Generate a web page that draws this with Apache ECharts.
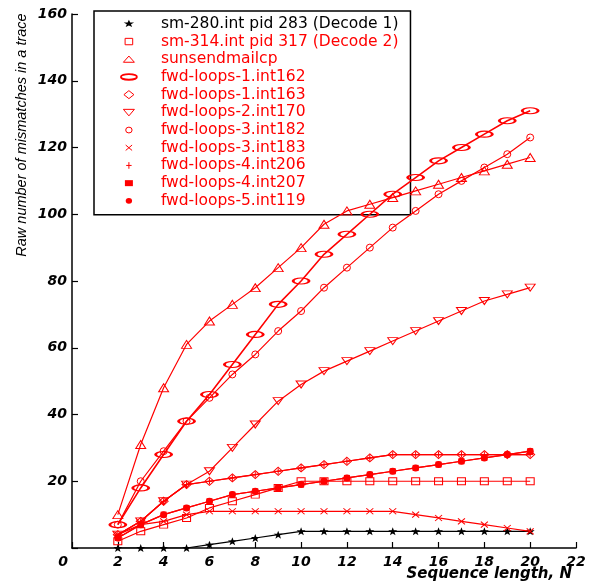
<!DOCTYPE html>
<html>
<head>
<meta charset="utf-8">
<script src="https://cdn.jsdelivr.net/npm/echarts@6/dist/echarts.min.js"></script>
<style>html,body{margin:0;padding:0;background:#fff}#c{width:592px;height:584px}</style>
</head>
<body>
<div id="c"></div>
<script>
// ---- data ----
const seqLen = [2,3,4,5,6,7,8,9,10,11,12,13,14,15,16,17,18,19,20];
const xTicks = [0,2,4,6,8,10,12,14,16,18,20,22];
const yTicks = [0,20,40,60,80,100,120,140,160];
const names = ['sm-280.int pid 283 (Decode 1)','sm-314.int pid 317 (Decode 2)','sunsendmailcp',
  'fwd-loops-1.int162','fwd-loops-1.int163','fwd-loops-2.int170','fwd-loops-3.int182',
  'fwd-loops-3.int183','fwd-loops-4.int206','fwd-loops-4.int207','fwd-loops-5.int119'];
const sm280   = [0,0,0,0,1,2,3,4,5,5,5,5,5,5,5,5,5,5,5];
const sm314   = [2,5,7,9,12,14,16,18,20,20,20,20,20,20,20,20,20,20,20];
const sunsend = [10,31,48,61,68,73,78,84,90,97,101,103,105,107,109,111,113,115,117];
const fl1_162 = [7,18,28,38,46,55,64,73,80,88,94,100,106,111,116,120,124,128,131];
const fl1_163 = [4,8,14,19,20,21,22,23,24,25,26,27,28,28,28,28,28,28,28];
const fl2_170 = [4,8,14,19,23,30,37,44,49,53,56,59,62,65,68,71,74,76,78];
const fl3_182 = [7,20,29,38,45,52,58,65,71,78,84,90,96,101,106,110,114,118,123];
const fl3_183 = [4,7,8,10,11,11,11,11,11,11,11,11,11,10,9,8,7,6,5];
const fl4_206 = [4,8,14,19,20,21,22,23,24,25,26,27,28,28,28,28,28,28,28];
const fl4_207 = [3,7,10,12,14,16,17,18,19,20,21,22,23,24,25,26,27,28,29];
const fl5_119 = [3,7,10,12,14,16,17,18,19,20,21,22,23,24,25,26,27,28,29];
const allData = [sm280,sm314,sunsend,fl1_162,fl1_163,fl2_170,fl3_182,fl3_183,fl4_206,fl4_207,fl5_119];

// ---- styles ----
const RED = '#ff0000', BLK = '#000000', NONE = 'rgba(0,0,0,0)';
const STAR = 'path://M0,-5L1.176,-1.618L4.755,-1.545L1.902,0.618L2.939,4.045L0,2L-2.939,4.045L-1.902,0.618L-4.755,-1.545L-1.176,-1.618Z';
const ELL = 'path://M0,3A7,3,0,1,1,14,3A7,3,0,1,1,0,3Z';
const TRID = 'path://M0,0L10,0L5,8.66Z';
const XM = 'path://M0,0L10,10M10,0L0,10';
const PL = 'path://M5,0L5,10M0,5L10,5';
const PAD = 'path://M-9,-5M9,5';
const styles = [
  {sym: STAR, size:[9,8], fill: BLK, stroke: BLK, bw:0, lw:1.2, color: BLK,
   icon: PAD+'M0,-4L1.3,-1.3L5.2,-1.24L2.1,0.5L3.2,3.24L0,1.6L-3.2,3.24L-2.1,0.5L-5.2,-1.24L-1.3,-1.3Z'},
  {sym:'rect', size:[8,7], fill: NONE, stroke: RED, bw:1, lw:1.2, color: RED,
   icon: PAD+'M-3.8,-3.2L3.8,-3.2L3.8,3.2L-3.8,3.2Z'},
  {sym:'triangle', size:[10,8], fill: NONE, stroke: RED, bw:1, lw:1.2, color: RED,
   icon: PAD+'M0,-3.2L5.5,3L-5.5,3Z'},
  {sym: ELL, size:[16,6], fill: NONE, stroke: RED, bw:1.8, lw:1.6, color: RED,
   icon: PAD+'M-8,0A8,2.8,0,1,1,8,0A8,2.8,0,1,1,-8,0Z', ibw:1.8},
  {sym:'diamond', size:[9,8], fill: NONE, stroke: RED, bw:1, lw:1.2, color: RED,
   icon: PAD+'M0,-4L5,0L0,4L-5,0Z'},
  {sym: TRID, size:[10,7], fill: NONE, stroke: RED, bw:1, lw:1.2, color: RED,
   icon: PAD+'M-5.5,-3L5.5,-3L0,3.5Z'},
  {sym:'circle', size:7, fill: NONE, stroke: RED, bw:1, lw:1.2, color: RED,
   icon: PAD+'M-3.2,0A3.2,2.9,0,1,1,3.2,0A3.2,2.9,0,1,1,-3.2,0Z'},
  {sym: XM, size:[7,6], fill: NONE, stroke: RED, bw:1, lw:1.2, color: RED,
   icon: PAD+'M-3.2,-2.7L3.2,2.7M3.2,-2.7L-3.2,2.7'},
  {sym: PL, size:[6,6], fill: NONE, stroke: RED, bw:1, lw:1.2, color: RED,
   icon: PAD+'M0,-3.3L0,3.3M-2.7,0L2.7,0'},
  {sym:'rect', size:6, fill: RED, stroke: RED, bw:0, lw:1.2, color: RED,
   icon: PAD+'M-4,-3L4,-3L4,3L-4,3Z'},
  {sym:'circle', size:7, fill: RED, stroke: RED, bw:0, lw:1.2, color: RED,
   icon: PAD+'M-3.2,0A3.2,2.9,0,1,1,3.2,0A3.2,2.9,0,1,1,-3.2,0Z'}
];

const tickFont = {fontFamily:'DejaVu Sans', fontSize:14, fontWeight:'bold', fontStyle:'italic', color:'#000'};

const series = names.map((n, k) => {
  const s = styles[k];
  return {
    type:'line', name:n,
    data: seqLen.map((x, i) => [x, allData[k][i]]),
    symbol: s.sym, symbolSize: s.size, symbolKeepAspect:false,
    showSymbol:true, showAllSymbol:true,
    lineStyle:{color:s.color, width:s.lw},
    itemStyle:{color:s.fill, borderColor:s.stroke, borderWidth:s.bw},
    emphasis:{disabled:true}, silent:true, z: 3 + k*0.01
  };
});

const legendData = names.map((n, k) => {
  const s = styles[k];
  return {
    name:n, icon:s.icon,
    itemStyle:{color:s.fill, borderColor:s.stroke, borderWidth:(s.ibw || s.bw)},
    textStyle:{color: k === 0 ? BLK : RED}
  };
});

const chart = echarts.init(document.getElementById('c'), null, {renderer:'canvas'});
chart.setOption({
  animation:false,
  backgroundColor:'#fff',
  grid:{left:72, right:16, top:14, bottom:36, containLabel:false, outerBoundsMode:'none'},
  xAxis:{
    type:'value', min:xTicks[0], max:xTicks[xTicks.length-1], interval:xTicks[1]-xTicks[0],
    axisLine:{show:true, onZero:false, lineStyle:{color:'#000', width:1.5}},
    axisTick:{show:true, inside:true, length:6, lineStyle:{color:'#000', width:1.2}},
    splitLine:{show:false},
    axisLabel:Object.assign({margin:7, formatter:v => v === 0 ? '{z|0}' : String(v),
      rich:{z:Object.assign({padding:[0,18,0,0]}, tickFont)}}, tickFont),
    name:'Sequence length, N', nameLocation:'end', nameGap:-4, nameMoveOverlap:false,
    nameTextStyle:{align:'right', verticalAlign:'top', padding:[19,0,0,0],
      fontFamily:'DejaVu Sans', fontSize:15, fontWeight:'bold', fontStyle:'italic', color:'#000'}
  },
  yAxis:{
    type:'value', min:yTicks[0], max:yTicks[yTicks.length-1], interval:yTicks[1]-yTicks[0],
    axisLine:{show:true, lineStyle:{color:'#000', width:1.5}},
    axisTick:{show:true, inside:true, length:6, lineStyle:{color:'#000', width:1.2}},
    splitLine:{show:false},
    axisLabel:Object.assign({margin:5, formatter:v => v === 0 ? '' : String(v)}, tickFont),
    name:'Raw number of mismatches in a trace', nameLocation:'middle', nameGap:43, nameRotate:90,
    nameMoveOverlap:false,
    nameTextStyle:{fontFamily:'Liberation Sans', fontStyle:'italic', fontSize:14.5, color:'#000',
      padding:[0,0,0,292]}
  },
  legend:{
    orient:'vertical', left:94, top:11, padding:[4,12,5,25], z:1,
    itemWidth:54, itemHeight:10, itemGap:0, symbolKeepAspect:true,
    backgroundColor:'#fff', borderColor:'#000', borderWidth:1.5, borderRadius:0,
    selectedMode:false,
    textStyle:{fontFamily:'DejaVu Sans', fontSize:15.5, lineHeight:17.7, color:RED},
    data:legendData
  },
  series:series
});
</script>
</body>
</html>
